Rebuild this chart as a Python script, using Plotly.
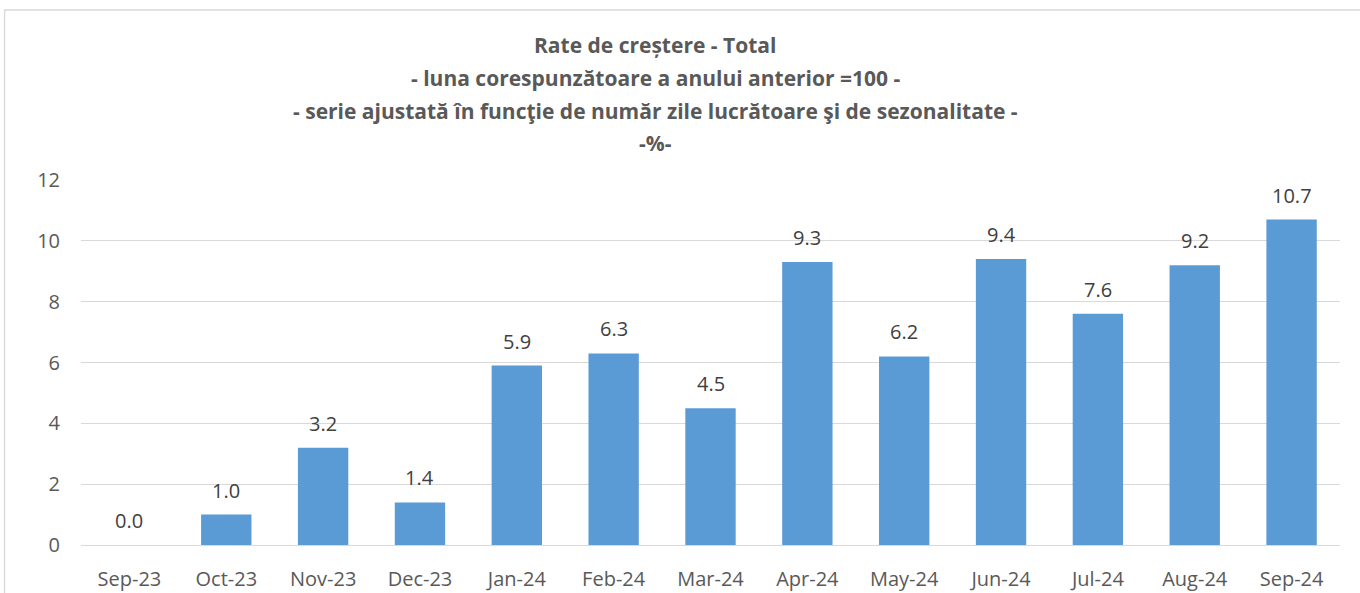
import plotly.graph_objects as go

months = ["Sep-23", "Oct-23", "Nov-23", "Dec-23", "Jan-24", "Feb-24", "Mar-24",
          "Apr-24", "May-24", "Jun-24", "Jul-24", "Aug-24", "Sep-24"]
values = [0.0, 1.0, 3.2, 1.4, 5.9, 6.3, 4.5, 9.3, 6.2, 9.4, 7.6, 9.2, 10.7]
y_ticks = [0, 2, 4, 6, 8, 10, 12]
title_lines = [
    "Rate de creștere - Total",
    "- luna corespunzătoare a anului anterior =100 -",
    "- serie ajustată în funcţie de număr zile lucrătoare şi de sezonalitate -",
    "-%-",
]

FONT = "Open Sans"

W, H = 1360, 593
plot_left, plot_right = 80.5, 1340.5
plot_top, plot_bottom = 180, 545
pw = plot_right - plot_left
ph = plot_bottom - plot_top

fig = go.Figure()
fig.add_trace(go.Bar(
    x=months, y=values,
    marker=dict(color="#5B9BD5", line=dict(width=0)),
    hoverinfo="x+y",
))

annotations = []
for m, v in zip(months, values):
    annotations.append(dict(
        x=m, y=v, xref="x", yref="y", text=f"{v:.1f}", showarrow=False,
        yanchor="bottom", yshift=9,
        font=dict(family=FONT, size=20, color="#404040"),
    ))

title_cx = (655 - plot_left) / pw
for line, py in zip(title_lines, [45, 78, 111, 143]):
    annotations.append(dict(
        x=title_cx, y=(plot_bottom - py) / ph, xref="paper", yref="paper",
        text=f"<b>{line}</b>", showarrow=False, xanchor="center", yanchor="middle",
        font=dict(family=FONT, size=21, color="#595959"),
    ))

fig.update_layout(
    width=W, height=H,
    margin=dict(l=plot_left, r=W - plot_right, t=plot_top, b=H - plot_bottom, pad=0),
    paper_bgcolor="white", plot_bgcolor="white",
    bargap=0.48,
    showlegend=False,
    annotations=annotations,
    xaxis=dict(
        type="category", showgrid=False, zeroline=False, showline=False,
        ticks="", tickfont=dict(family=FONT, size=20, color="#595959"),
        ticklabelstandoff=20, automargin=False,
    ),
    yaxis=dict(
        range=[0, 12], tickvals=y_ticks, showgrid=True, gridcolor="#D9D9D9",
        gridwidth=1.3, zeroline=True, zerolinecolor="#D9D9D9", zerolinewidth=1.3,
        showline=False, ticks="",
        tickfont=dict(family=FONT, size=20, color="#595959"),
        ticklabelstandoff=20, automargin=False,
    ),
    shapes=[dict(
        type="rect", xref="paper", yref="paper",
        x0=(4 - plot_left) / pw, x1=(1366 - plot_left) / pw,
        y0=(plot_bottom - 600) / ph, y1=(plot_bottom - 10) / ph,
        line=dict(color="#D9D9D9", width=1.3), fillcolor="rgba(0,0,0,0)", layer="below",
    )],
)

fig.write_html(
    "out.html",
    config={"displayModeBar": False},
    post_script="document.body.style.margin='0';document.body.style.overflow='hidden';",
)
